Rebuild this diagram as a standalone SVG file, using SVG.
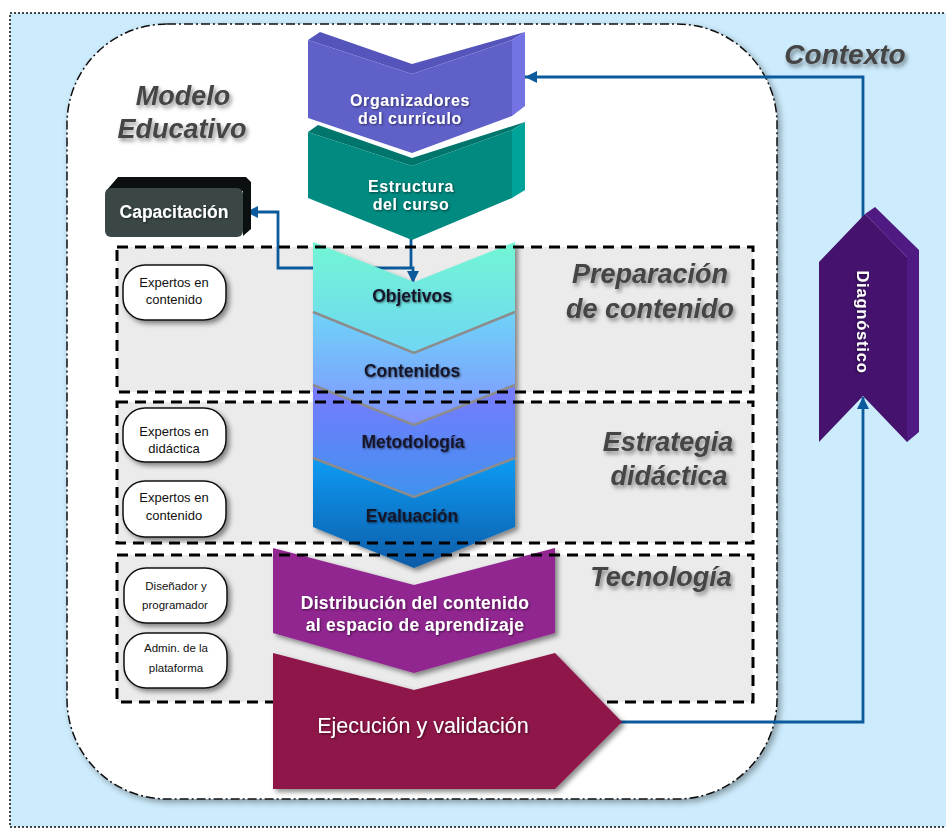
<svg xmlns="http://www.w3.org/2000/svg" width="946" height="829" viewBox="0 0 946 829">
  <defs>
    <style>
      .ttl { font-family: "Liberation Sans", Arial, sans-serif; font-weight: bold; font-style: italic; fill: #444444; filter: url(#txtShadow); }
      .wlab { font-family: "Liberation Sans", Arial, sans-serif; font-weight: bold; fill: #ffffff; text-anchor: middle; filter: url(#lblShadow); }
      .klab { font-family: "Liberation Sans", Arial, sans-serif; font-weight: bold; fill: #15152a; text-anchor: middle; font-size: 17.5px; filter: url(#lblShadow); }
      .pill { fill: #ffffff; stroke: #111111; stroke-width: 1.5; filter: url(#softShadow); }
      .ptxt { font-family: "Liberation Sans", Arial, sans-serif; fill: #111111; text-anchor: middle; }
      .secfill { fill: #ebebeb; }
      .secline { fill: none; stroke: #000000; stroke-width: 3; stroke-dasharray: 11 7; }
      .conn { fill: none; stroke: #0b5a9c; stroke-width: 2.8; }
      .sep { fill: none; stroke: #8c8c8c; stroke-width: 2.5; }
    </style>
    <filter id="softShadow" x="-20%" y="-20%" width="140%" height="140%">
      <feDropShadow dx="3" dy="3" stdDeviation="2.5" flood-color="#000000" flood-opacity="0.45"/>
    </filter>
    <filter id="frameShadow" x="-5%" y="-5%" width="110%" height="110%">
      <feDropShadow dx="3" dy="3" stdDeviation="3" flood-color="#000000" flood-opacity="0.35"/>
    </filter>
    <filter id="txtShadow" x="-10%" y="-30%" width="120%" height="160%">
      <feDropShadow dx="2" dy="3" stdDeviation="2" flood-color="#000000" flood-opacity="0.45"/>
    </filter>
    <filter id="lblShadow" x="-10%" y="-30%" width="120%" height="160%">
      <feDropShadow dx="1" dy="1" stdDeviation="0.8" flood-color="#000000" flood-opacity="0.55"/>
    </filter>
    <linearGradient id="gObj" x1="0" y1="0" x2="0" y2="1">
      <stop offset="0" stop-color="#72f6d4"/>
      <stop offset="1" stop-color="#6fd6f2"/>
    </linearGradient>
    <linearGradient id="gCon" x1="0" y1="0" x2="0" y2="1">
      <stop offset="0" stop-color="#6fd3f8"/>
      <stop offset="1" stop-color="#8292ff"/>
    </linearGradient>
    <linearGradient id="gMet" x1="0" y1="0" x2="0" y2="1">
      <stop offset="0" stop-color="#7a7aff"/>
      <stop offset="1" stop-color="#3f92ee"/>
    </linearGradient>
    <linearGradient id="gEva" x1="0" y1="0" x2="0" y2="1">
      <stop offset="0" stop-color="#079bf4"/>
      <stop offset="1" stop-color="#0a5ca8"/>
    </linearGradient>
    <marker id="arrow" viewBox="0 0 10 10" refX="10" refY="5" markerWidth="13" markerHeight="12" markerUnits="userSpaceOnUse" orient="auto-start-reverse">
      <path d="M0,0 L10,5 L0,10 z" fill="#0b5a9c"/>
    </marker>
  </defs>

  <!-- outer context area -->
  <g id="contexto">
    <rect x="10" y="13" width="950" height="814" fill="#ccebfc" stroke="#444444" stroke-width="2" stroke-dasharray="2 2"/>
    <text class="ttl" x="845" y="64" font-size="28" text-anchor="middle">Contexto</text>
  </g>

  <!-- educational model frame -->
  <g id="modelo-educativo">
    <rect x="67" y="24" width="710" height="775" rx="100" ry="100" fill="#ffffff" stroke="#111111" stroke-width="1.5" stroke-dasharray="9 3 2 3" filter="url(#frameShadow)"/>
    <text class="ttl" x="183" y="105" font-size="27" text-anchor="middle">Modelo</text>
    <text class="ttl" x="182" y="138" font-size="27" text-anchor="middle">Educativo</text>
  </g>

  <!-- section backgrounds -->
  <g id="sec-preparacion">
    <rect class="secfill" x="117" y="247" width="636" height="145"/>
    <text class="ttl" x="650" y="283" font-size="27" text-anchor="middle">Preparación</text>
    <text class="ttl" x="650" y="318" font-size="27" text-anchor="middle">de contenido</text>
  </g>
  <g id="sec-estrategia">
    <rect class="secfill" x="117" y="402" width="636" height="141"/>
    <text class="ttl" x="668" y="451" font-size="27" text-anchor="middle">Estrategia</text>
    <text class="ttl" x="669" y="485" font-size="27" text-anchor="middle">didáctica</text>
  </g>
  <g id="sec-tecnologia">
    <rect class="secfill" x="117" y="555" width="636" height="147"/>
    <text class="ttl" x="661" y="586" font-size="27" text-anchor="middle">Tecnología</text>
  </g>

  <!-- connectors -->
  <g id="connectors">
    <path class="conn" d="M411,238 V268"/>
    <path class="conn" d="M246,212 H278 V268 H413 V283" marker-start="url(#arrow)" marker-end="url(#arrow)"/>
    <path class="conn" d="M620,722 H863 V397" marker-end="url(#arrow)"/>
    <path class="conn" d="M863,230 V77 H525" marker-end="url(#arrow)"/>
  </g>

  <!-- curriculum organizers -->
  <g id="estructura">
    <polygon points="308,132 318,125 412,158 525,122 512,130 412,166" fill="#00756b"/>
    <polygon points="308,132 412,166 512,130 512,198 412,240 308,198" fill="#008a80"/>
    <polygon points="512,130 525,122 525,190 512,198" fill="#00a39a"/>
    <text class="wlab" x="411" y="192" font-size="16" letter-spacing="0.6">Estructura</text>
    <text class="wlab" x="411" y="210" font-size="16" letter-spacing="0.6">del curso</text>
  </g>
  <g id="organizadores">
    <polygon points="308,40 320,32 412,64 525,32 512,40 412,74" fill="#5454bb"/>
    <polygon points="308,40 412,74 512,40 512,116 412,153 308,118" fill="#6060c9"/>
    <polygon points="512,40 525,32 525,106 512,116" fill="#7373e4"/>
    <text class="wlab" x="410" y="106" font-size="16" letter-spacing="0.6">Organizadores</text>
    <text class="wlab" x="410" y="124" font-size="16" letter-spacing="0.6">del currículo</text>
  </g>

  <g id="capacitacion">
    <polygon points="106,191 118,177 246,177 251,182 251,229 243,236 243,191" fill="#0b0f10"/>
    <rect x="105" y="188" width="138" height="49" rx="6" fill="#3b4747"/>
    <text class="wlab" x="174" y="218" font-size="17.5">Capacitación</text>
  </g>

  <!-- course content stack -->
  <g id="stack" filter="url(#softShadow)">
    <g id="objetivos">
      <polygon points="313,242 414,282 515,242 515,312 414,353 313,312" fill="url(#gObj)"/>
    </g>
    <g id="contenidos">
      <polygon points="313,312 414,353 515,312 515,385 414,425 313,385" fill="url(#gCon)"/>
      <polyline class="sep" points="313,312 414,353 515,312"/>
    </g>
    <g id="metodologia">
      <polygon points="313,385 414,425 515,385 515,458 414,497 313,458" fill="url(#gMet)"/>
      <polyline class="sep" points="313,385 414,425 515,385"/>
    </g>
    <g id="evaluacion">
      <polygon points="313,458 414,497 515,458 515,527 414,568 313,527" fill="url(#gEva)"/>
      <polyline class="sep" points="313,458 414,497 515,458"/>
    </g>
  </g>
  <g id="stack-labels">
    <text class="klab" x="412" y="302">Objetivos</text>
    <text class="klab" x="412" y="377">Contenidos</text>
    <text class="klab" x="413" y="448">Metodología</text>
    <text class="klab" x="412" y="522">Evaluación</text>
  </g>

  <g id="distribucion">
    <polygon points="273,548 414,585 555,548 555,633 414,673 273,633" fill="#912590" filter="url(#softShadow)"/>
    <text class="wlab" x="415" y="609" font-size="17.5" letter-spacing="0.3">Distribución del contenido</text>
    <text class="wlab" x="415" y="631" font-size="17.5" letter-spacing="0.3">al espacio de aprendizaje</text>
  </g>

  <!-- section outlines -->
  <g id="section-borders">
    <rect class="secline" x="117" y="247" width="636" height="145"/>
    <rect class="secline" x="117" y="402" width="636" height="141"/>
    <rect class="secline" x="117" y="555" width="636" height="147"/>
  </g>

  <g id="ejecucion">
    <polygon points="273,653 414,690 555,653 622,722 555,789 273,789" fill="#8f1749" filter="url(#softShadow)"/>
    <text x="423" y="733" font-family="Liberation Sans, Arial, sans-serif" font-size="21.5" fill="#ffffff" text-anchor="middle" filter="url(#lblShadow)">Ejecución y validación</text>
  </g>

  <g id="diagnostico">
    <polygon points="865,214 875,207 919,250 919,432 907,442 907,257" fill="#4f1a82"/>
    <polygon points="819,262 865,214 907,257 907,442 863,396 819,442" fill="#45136e"/>
    <text class="wlab" x="857" y="322" font-size="16.5" letter-spacing="0.8" transform="rotate(90 857 322)">Diagnóstico</text>
  </g>

  <!-- people involved -->
  <g id="expertos-contenido-1">
    <rect class="pill" x="123" y="265" width="103" height="55" rx="22"/>
    <text class="ptxt" x="174" y="287" font-size="13">Expertos en</text>
    <text class="ptxt" x="174" y="304" font-size="13">contenido</text>
  </g>
  <g id="expertos-didactica">
    <rect class="pill" x="123" y="408" width="103" height="54" rx="22"/>
    <text class="ptxt" x="174" y="436" font-size="13">Expertos en</text>
    <text class="ptxt" x="174" y="453" font-size="13">didáctica</text>
  </g>
  <g id="expertos-contenido-2">
    <rect class="pill" x="123" y="481" width="103" height="56" rx="22"/>
    <text class="ptxt" x="174" y="502" font-size="13">Expertos en</text>
    <text class="ptxt" x="174" y="520" font-size="13">contenido</text>
  </g>
  <g id="disenador">
    <rect class="pill" x="124" y="568" width="103" height="55" rx="22"/>
    <text class="ptxt" x="176" y="590" font-size="11.5">Diseñador y</text>
    <text class="ptxt" x="175" y="609" font-size="11.5">programador</text>
  </g>
  <g id="admin">
    <rect class="pill" x="124" y="633" width="103" height="55" rx="22"/>
    <text class="ptxt" x="176" y="652" font-size="11.5">Admin. de la</text>
    <text class="ptxt" x="176" y="672" font-size="11.5">plataforma</text>
  </g>
</svg>
